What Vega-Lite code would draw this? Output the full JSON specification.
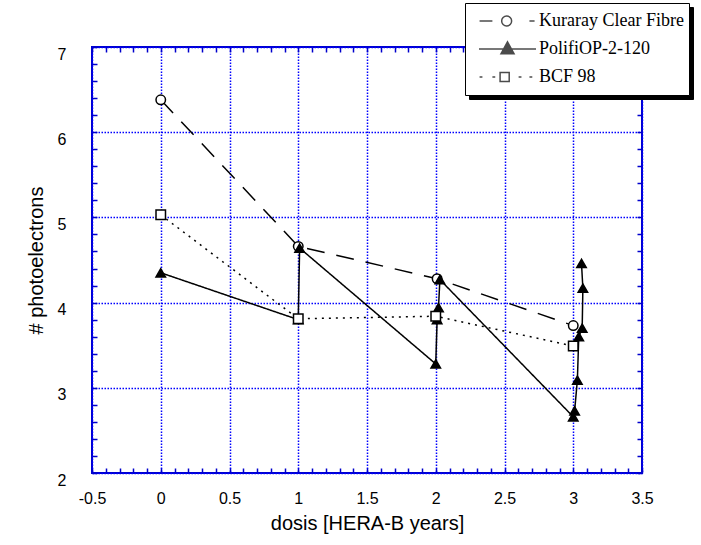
{
  "$schema": "https://vega.github.io/schema/vega-lite/v6.json",
  "autosize": {"type": "none"},
  "padding": {"left": 92, "top": 47, "right": 59, "bottom": 72},
  "width": 550,
  "height": 426,
  "background": "white",
  "config": {
    "view": {"stroke": "#0000cc", "strokeWidth": 2},
    "axis": {
      "domain": false,
      "tickColor": "#0000cc",
      "tickWidth": 1.5,
      "tickSize": 5,
      "labelFont": "Liberation Sans",
      "labelFontSize": 16,
      "labelColor": "black",
      "titleFont": "Liberation Sans",
      "titleFontSize": 20,
      "titleFontWeight": "normal",
      "titleColor": "black",
      "gridColor": "#0000ff",
      "gridDash": [1.5, 1.5],
      "gridWidth": 1.5
    }
  },
  "data": {
    "values": [
      {"s": "Kuraray Clear Fibre", "i": 1, "x": 0.0, "y": 6.38},
      {"s": "Kuraray Clear Fibre", "i": 2, "x": 1.0, "y": 4.66},
      {"s": "Kuraray Clear Fibre", "i": 3, "x": 2.01, "y": 4.28},
      {"s": "Kuraray Clear Fibre", "i": 4, "x": 3.0, "y": 3.73},
      {"s": "PolifiOP-2-120", "i": 1, "x": 0.0, "y": 4.35},
      {"s": "PolifiOP-2-120", "i": 2, "x": 1.0, "y": 3.8},
      {"s": "PolifiOP-2-120", "i": 3, "x": 1.01, "y": 4.64},
      {"s": "PolifiOP-2-120", "i": 4, "x": 2.0, "y": 3.28},
      {"s": "PolifiOP-2-120", "i": 5, "x": 2.01, "y": 3.8},
      {"s": "PolifiOP-2-120", "i": 6, "x": 2.02, "y": 3.94},
      {"s": "PolifiOP-2-120", "i": 7, "x": 2.03, "y": 4.27},
      {"s": "PolifiOP-2-120", "i": 8, "x": 3.0, "y": 2.66},
      {"s": "PolifiOP-2-120", "i": 9, "x": 3.01, "y": 2.73},
      {"s": "PolifiOP-2-120", "i": 10, "x": 3.03, "y": 3.09},
      {"s": "PolifiOP-2-120", "i": 11, "x": 3.04, "y": 3.6},
      {"s": "PolifiOP-2-120", "i": 12, "x": 3.065, "y": 3.7},
      {"s": "PolifiOP-2-120", "i": 13, "x": 3.07, "y": 4.17},
      {"s": "PolifiOP-2-120", "i": 14, "x": 3.06, "y": 4.46},
      {"s": "BCF 98", "i": 1, "x": 0.0, "y": 5.03},
      {"s": "BCF 98", "i": 2, "x": 1.0, "y": 3.81},
      {"s": "BCF 98", "i": 3, "x": 2.0, "y": 3.84},
      {"s": "BCF 98", "i": 4, "x": 3.0, "y": 3.49}
    ]
  },
  "resolve": {"axis": {"x": "independent", "y": "independent"}, "legend": {"shape": "independent"}},
  "layer": [
    {
      "mark": {"type": "line", "color": "black", "strokeWidth": 1.5},
      "encoding": {
        "x": {
          "field": "x", "type": "quantitative",
          "scale": {"domain": [-0.5, 3.5], "nice": false, "zero": false},
          "axis": {
            "orient": "bottom",
            "offset": -5,
            "title": "dosis [HERA-B years]",
            "values": [-0.5,-0.4,-0.3,-0.2,-0.1,0,0.1,0.2,0.3,0.4,0.5,0.6,0.7,0.8,0.9,1,1.1,1.2,1.3,1.4,1.5,1.6,1.7,1.8,1.9,2,2.1,2.2,2.3,2.4,2.5,2.6,2.7,2.8,2.9,3,3.1,3.2,3.3,3.4,3.5],
            "labelExpr": "abs(datum.value*2-round(datum.value*2))<0.001 ? '' + datum.value : ''",
            "labelPadding": 17,
            "labelFlush": false,
            "labelOverlap": false,
            "grid": true,
            "gridOpacity": {"condition": {"test": "abs(datum.value*2-round(datum.value*2))<0.001", "value": 1}, "value": 0},
            "titlePadding": 7
          }
        },
        "y": {
          "field": "y", "type": "quantitative",
          "scale": {"domain": [2, 7], "nice": false, "zero": false},
          "axis": {
            "orient": "left",
            "offset": -5,
            "title": "# photoelectrons",
            "values": [2,2.2,2.4,2.6,2.8,3,3.2,3.4,3.6,3.8,4,4.2,4.4,4.6,4.8,5,5.2,5.4,5.6,5.8,6,6.2,6.4,6.6,6.8,7],
            "labelExpr": "abs(datum.value-round(datum.value))<0.001 ? '' + datum.value : ''",
            "labelPadding": 26,
            "labelAlign": "right",
            "labelOffset": 7,
            "labelFlush": false,
            "labelOverlap": false,
            "grid": true,
            "gridOpacity": {"condition": {"test": "abs(datum.value-round(datum.value))<0.001", "value": 1}, "value": 0},
            "titlePadding": 11
          }
        },
        "detail": {"field": "s"},
        "order": {"field": "i", "type": "quantitative"},
        "strokeDash": {
          "condition": [
            {"test": "datum.s === 'Kuraray Clear Fibre'", "value": [18, 12]},
            {"test": "datum.s === 'BCF 98'", "value": [2, 5]}
          ],
          "value": [1, 0]
        }
      }
    },
    {
      "mark": {"type": "point", "filled": true, "stroke": "black", "strokeWidth": 1.5, "opacity": 1, "size": 90},
      "encoding": {
        "x": {"field": "x", "type": "quantitative", "axis": null},
        "y": {"field": "y", "type": "quantitative", "axis": null},
        "fill": {"condition": {"test": "datum.s === 'PolifiOP-2-120'", "value": "black"}, "value": "white"},
        "shape": {
          "condition": [
            {"test": "datum.s === 'PolifiOP-2-120'", "value": "triangle-up"},
            {"test": "datum.s === 'BCF 98'", "value": "square"}
          ],
          "value": "circle"
        }
      }
    },
    {
      "mark": {"type": "point", "opacity": 0},
      "encoding": {
        "x": {
          "field": "x", "type": "quantitative",
          "axis": {
            "orient": "top", "offset": -5, "title": null, "labels": false, "grid": false,
            "values": [-0.5,-0.4,-0.3,-0.2,-0.1,0,0.1,0.2,0.3,0.4,0.5,0.6,0.7,0.8,0.9,1,1.1,1.2,1.3,1.4,1.5,1.6,1.7,1.8,1.9,2,2.1,2.2,2.3,2.4,2.5,2.6,2.7,2.8,2.9,3,3.1,3.2,3.3,3.4,3.5]
          }
        },
        "y": {
          "field": "y", "type": "quantitative",
          "axis": {
            "orient": "right", "offset": -5, "title": null, "labels": false, "grid": false,
            "values": [2,2.2,2.4,2.6,2.8,3,3.2,3.4,3.6,3.8,4,4.2,4.4,4.6,4.8,5,5.2,5.4,5.6,5.8,6,6.2,6.4,6.6,6.8,7]
          }
        },
        "shape": {
          "field": "s", "type": "nominal",
          "legend": {
            "orient": "none",
            "legendX": 377,
            "legendY": -40,
            "zindex": 1,
            "title": null,
            "symbolSize": 3249,
            "clipHeight": 26,
            "rowPadding": 2,
            "padding": 5,
            "symbolOffset": 8,
            "labelOffset": 2,
            "labelFont": "Liberation Serif",
            "labelFontSize": 18,
            "labelColor": "black",
            "labelOpacity": 0,
            "fillColor": "black",
            "strokeColor": "black",
            "symbolOpacity": 0
          }
        }
      }
    },
    {
      "transform": [{"filter": "false"}],
      "mark": {"type": "point", "filled": true, "fill": "white", "stroke": "black", "strokeWidth": 1.5},
      "encoding": {
        "x": {"field": "x", "type": "quantitative", "axis": null},
        "y": {"field": "y", "type": "quantitative", "axis": null},
        "shape": {
          "field": "s", "type": "nominal",
          "scale": {
            "domain": ["Kuraray Clear Fibre", "PolifiOP-2-120", "BCF 98"],
            "range": [
              "M-0.98,0L-0.53,0M-0.205,0A0.175,0.175,0,1,0,0.145,0A0.175,0.175,0,1,0,-0.205,0ZM0.77,0L0.95,0",
              "M-1,0L1,0M-0.23,0.17L0,-0.25L0.23,0.17ZM-0.022,-0.21L0.022,-0.21M-0.041,-0.175L0.041,-0.175M-0.06,-0.14L0.06,-0.14M-0.079,-0.105L0.079,-0.105M-0.099,-0.07L0.099,-0.07M-0.118,-0.035L0.118,-0.035M-0.156,0.035L0.156,0.035M-0.175,0.07L0.175,0.07M-0.194,0.105L0.194,0.105M-0.214,0.14L0.214,0.14",
              "M-0.98,0L-0.88,0M-0.53,0L-0.43,0M-0.26,-0.16L0.06,-0.16L0.06,0.16L-0.26,0.16ZM0.39,0L0.49,0M0.77,0L0.87,0"
            ]
          },
          "legend": {
            "orient": "none",
            "legendX": 373,
            "legendY": -44,
            "zindex": 3,
            "title": null,
            "symbolSize": 3249,
            "clipHeight": 26,
            "rowPadding": 2,
            "padding": 5,
            "symbolOffset": 8,
            "labelOffset": 2,
            "labelFont": "Liberation Serif",
            "labelFontSize": 18,
            "labelColor": "black",
            "fillColor": "white",
            "strokeColor": "black",
            "symbolFillColor": "white",
            "encode": {
              "legend": {"update": {"strokeWidth": {"value": 2}}},
              "symbols": {
                "update": {
                  "fill": {"value": "white"},
                  "stroke": {"value": "black"},
                  "strokeWidth": {"value": 1.5},
                  "opacity": {"value": 1},
                  "fillOpacity": {"value": 1},
                  "strokeOpacity": {"value": 1}
                }
              }
            }
          }
        }
      }
    }
  ]
}
